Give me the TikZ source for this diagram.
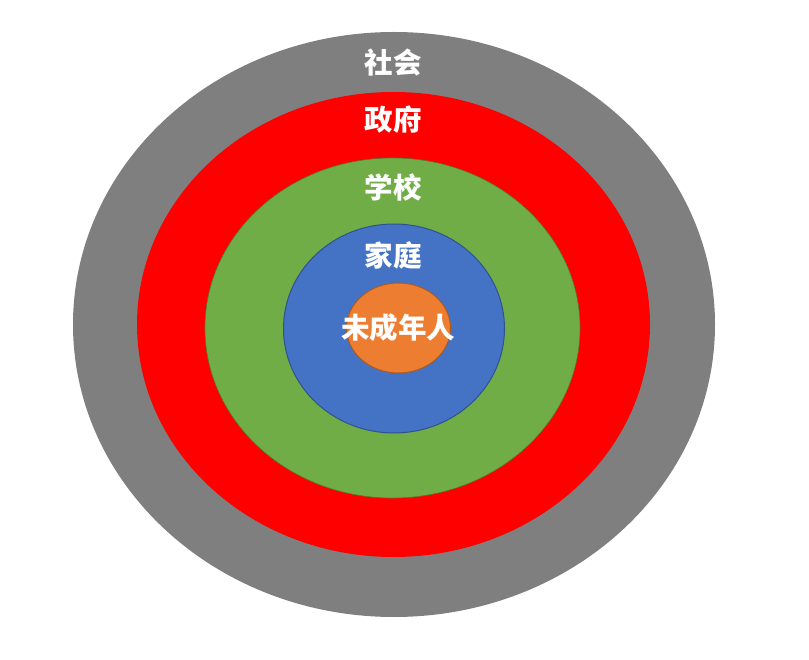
\documentclass[tikz,border=0pt]{standalone}
\usepackage{fontspec}
\newfontfamily\cjk{Noto Sans CJK SC}
\usetikzlibrary{shapes.geometric}
\definecolor{cgray}{HTML}{7F7F7F}
\definecolor{cred}{HTML}{FF0000}
\definecolor{cgreen}{HTML}{70AD47}
\definecolor{cgreenline}{HTML}{507E32}
\definecolor{cblue}{HTML}{4472C4}
\definecolor{cblueline}{HTML}{2F528F}
\definecolor{corange}{HTML}{ED7D31}
\definecolor{corangeline}{HTML}{AE5A21}
\begin{document}
\begin{tikzpicture}[x=1pt,y=-1pt,
  ring/.style={ellipse, inner sep=0pt},
  lbl/.style={text=white, font=\cjk\bfseries\fontsize{28.5}{28.5}\selectfont, inner sep=0pt}]
\useasboundingbox (0,0) rectangle (809,660);
\node[ring, fill=cgray, minimum width=642pt, minimum height=585pt] (soc) at (394,324.5) {};
\node[ring, fill=cred, minimum width=513pt, minimum height=465pt] (gov) at (393.5,324.5) {};
\node[ring, fill=cgreen, draw=cgreenline, line width=0.6pt, minimum width=375pt, minimum height=340pt] (sch) at (392.5,328) {};
\node[ring, fill=cblue, draw=cblueline, line width=1pt, minimum width=221pt, minimum height=209pt] (fam) at (394,328.5) {};
\node[ring, fill=corange, draw=corangeline, line width=1pt, minimum width=104pt, minimum height=90pt] (kid) at (398.5,328) {};
\node[lbl] (tsoc) at (393,63) {社会};
\node[lbl] (tgov) at (393,120) {政府};
\node[lbl] (tsch) at (393,187) {学校};
\node[lbl] (tfam) at (393,255) {家庭};
\node[lbl] (tkid) at (398,328) {未成年人};
\end{tikzpicture}
\end{document}
